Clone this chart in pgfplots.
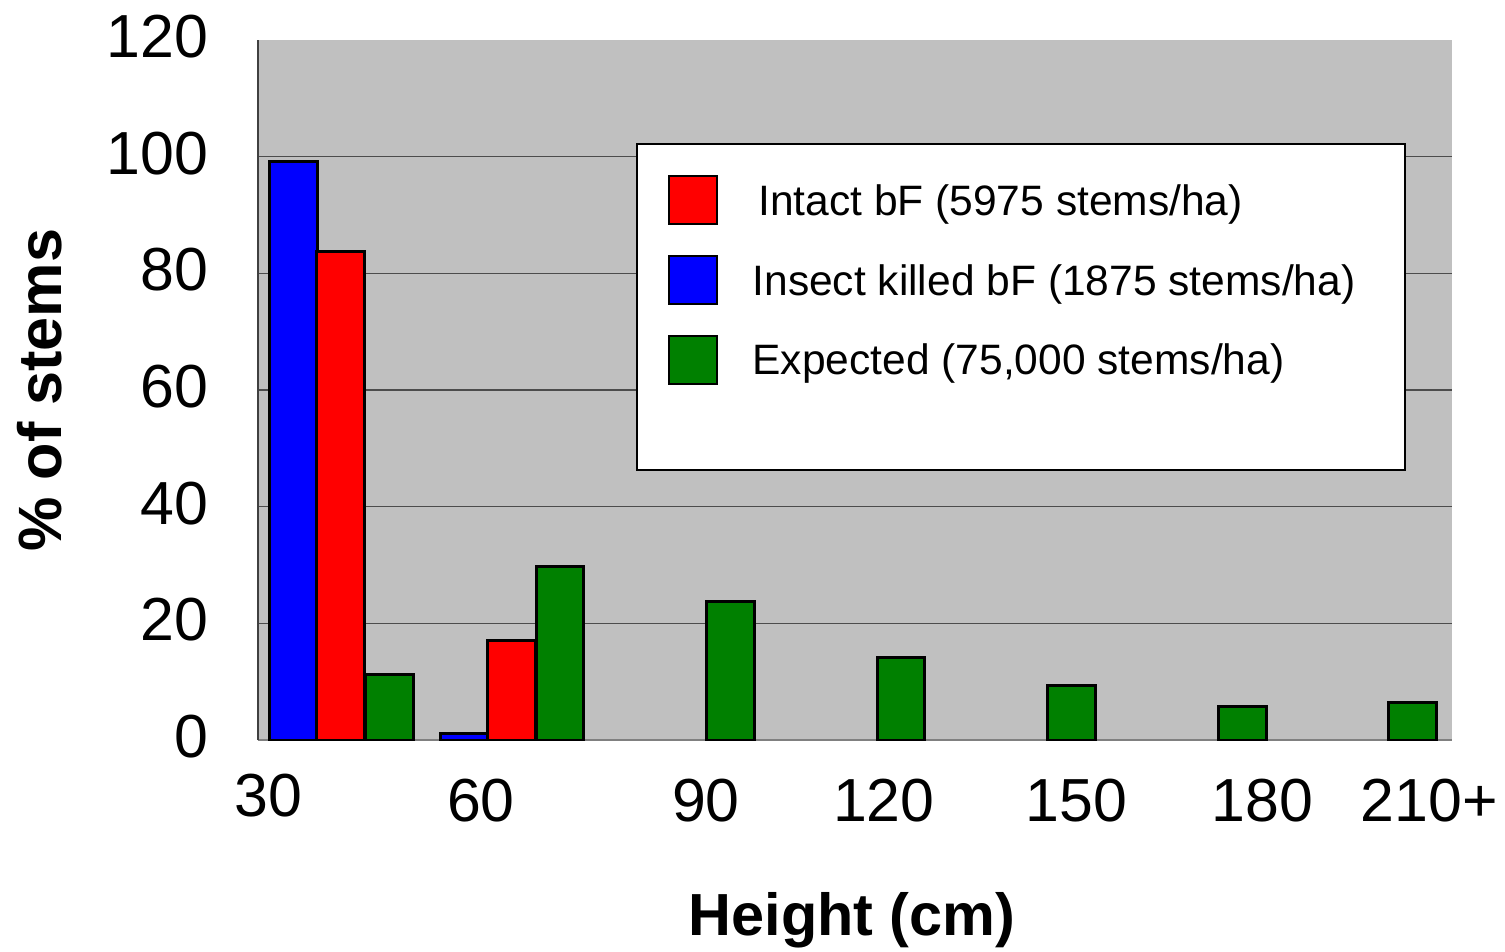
\documentclass[border=0pt]{standalone}
\usepackage{fontspec}
\setmainfont{Liberation Sans}
\usepackage{pgfplots}
\pgfplotsset{compat=1.18}
\definecolor{plotgray}{HTML}{C0C0C0}
\definecolor{barblue}{HTML}{0000FF}
\definecolor{barred}{HTML}{FF0000}
\definecolor{bargreen}{HTML}{008000}
\begin{document}
\begin{tikzpicture}
\begin{axis}[
  scale only axis,
  width=339.7pt, height=199.15pt,
  xmin=-0.5, xmax=6.5, ymin=0, ymax=120,
  axis x line*=bottom, axis y line*=left,
  x axis line style={draw=black!50, line width=0.3pt},
  y axis line style={draw=black!75, line width=0.3pt},
  axis background/.style={fill=plotgray},
  xtick={-0.441,0.807,2.126,3.169,4.298,5.388,6.367},
  xticklabels={\raisebox{1.4pt}{30},60,90,120,150,180,210+},
  ytick={20,40,60,80,100},
  extra y ticks={0,120},
  extra y tick style={grid=none},
  major tick length=0pt,
  ymajorgrids,
  grid style={draw=black!70, line width=0.35pt},
  tick label style={font=\fontsize{17.3}{20}\selectfont},
  /pgf/number format/assume math mode=true,
  yticklabel style={anchor=east, xshift=-10.6pt, yshift=1pt},
  xticklabel style={anchor=base, yshift=-23.3pt},
  xlabel={Height (cm)}, ylabel={\% of stems},
  xlabel style={font=\bfseries\fontsize{16.9}{20}\selectfont, at={(axis description cs:0.4975,-0.2786)}, anchor=base},
  ylabel style={font=\bfseries\fontsize{17.4}{20}\selectfont, at={(axis description cs:-0.1826,0.5)}, anchor=center},
  legend style={at={(axis description cs:0.3434,0.8071)}, anchor=north west, draw=none, fill=none,
    inner sep=0pt, outer sep=0pt, row sep=8.26pt, column sep=9.8pt,
    font=\fontsize{12.1}{14}\selectfont,
    nodes={inner sep=0pt, text height=11.5pt, text depth=2.9pt}},
  legend cell align=left,
  legend image code/.code={\draw[#1, line width=0.6pt] (0pt,-6.83pt) rectangle (13.66pt,6.83pt);},
]
\addplot[ybar, bar width=0.28, bar shift=-0.29, fill=barblue, draw=black, line width=0.85pt, forget plot]
  coordinates {(0,99.2) (1,1.1)};
\addplot[ybar, bar width=0.28, bar shift=-0.015, fill=barred, draw=black, line width=0.85pt, forget plot]
  coordinates {(0,83.7) (1,17.1)};
\addplot[ybar, bar width=0.28, bar shift=0.27, fill=bargreen, draw=black, line width=0.85pt, forget plot]
  coordinates {(0,11.2) (1,29.7) (2,23.7) (3,14.2) (4,9.4) (5,5.8) (6,6.5)};
\draw[fill=white, draw=black, line width=0.6pt] (axis description cs:0.3174,0.3857) rectangle (axis description cs:0.9606,0.8514);
\addlegendimage{fill=barred, draw=black}
\addlegendentry{\hspace*{1.6pt}Intact bF (5975 stems/ha)}
\addlegendimage{fill=barblue, draw=black}
\addlegendentry{Insect killed bF (1875 stems/ha)}
\addlegendimage{fill=bargreen, draw=black}
\addlegendentry{Expected (75,000 stems/ha)}
\end{axis}
\pgfresetboundingbox
\path[use as bounding box] (current axis.south west) ++(-73.4pt,-60.03pt) rectangle ++(428.17pt,270.56pt);
\end{tikzpicture}
\end{document}
